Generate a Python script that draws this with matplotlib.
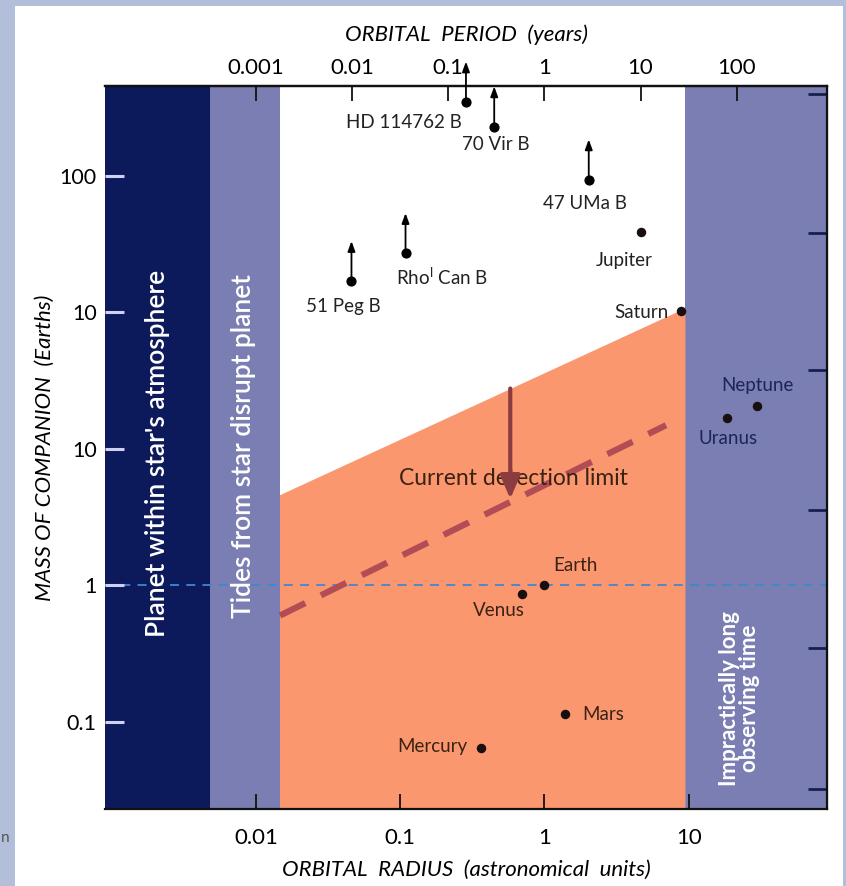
import numpy as np
import matplotlib
matplotlib.use("Agg")
import matplotlib.pyplot as plt
from matplotlib.patches import Rectangle
from matplotlib.transforms import offset_copy

plt.rcParams['font.family'] = ['Lato', 'DejaVu Sans']

# ---------------- data ----------------
# axis ranges (AU, Earth masses)
x_range = [9.0e-4, 91.0]
y_range = [0.0229, 4570.0]

# region boundaries along orbital radius (AU)
region_edges = [9.0e-4, 0.0048, 0.0147, 9.5, 91.0]
region_colors = ['#0c195b', '#7a7eb2', 'none', '#7a7eb2']

# current detection limit (upper edge of orange region)
limit_x = [0.0147, 9.5]
limit_y = [4.57, 107.0]
# projected future limit (dashed red line)
future_x = [0.0147, 6.97]
future_y = [0.60, 14.9]
# improvement arrow
improve_x = 0.58
improve_y = [27.7, 4.3]

# exoplanets (lower limits on mass)
exo_names = ['HD 114762 B', '70 Vir B', '47 UMa B', '51 Peg B', 'Rho$^{\\mathregular{l}}$ Can B']
exo_radius = [0.286, 0.449, 2.03, 0.046, 0.109]
exo_mass = [3500.0, 2300.0, 940.0, 169.0, 271.0]

# solar-system planets
planet_names = ['Jupiter', 'Saturn', 'Uranus', 'Neptune', 'Earth', 'Venus', 'Mars', 'Mercury']
planet_radius = [4.67, 8.87, 18.5, 30.0, 1.0, 0.70, 1.38, 0.364]
planet_mass = [392.0, 102.0, 16.7, 20.5, 1.0, 0.86, 0.113, 0.064]

# axis ticks
x_ticks = [0.01, 0.1, 1, 10]
x_ticklabels = ['0.01', '0.1', '1', '10']
period_ticks = [0.001, 0.01, 0.1, 1, 10, 100]
period_ticklabels = ['0.001', '0.01', '0.1', '1', '10', '100']
y_ticks = [0.1, 1, 10, 100, 1000]
y_ticklabels = ['0.1', '1', '10', '10', '100']
right_ticks = [10**3.60, 10**2.58, 10**1.575, 10**0.55, 10**-0.46, 10**-1.49]

# label layout (offset points, alignment)
exo_label_off = [(-45, -15, 'center'), (1.5, -12.5, 'center'), (-3, -17, 'center'),
                 (-6, -18, 'center'), (26, -17, 'center')]
planet_label_off = [(-12, -21, 'center'), (-9, -1, 'right'), (0.7, -14.5, 'center'),
                    (0, 15, 'center'), (22, 14.5, 'center'), (-17, -11.5, 'center'),
                    (13, 0, 'left'), (-10, 1.5, 'right')]
planet_label_colors = ['#222222', '#222222', '#1c2458', '#1c2458',
                       '#3a2214', '#3a2214', '#3a2214', '#3a2214']

# ---------------- figure ----------------
W, H = 846, 886
fig = plt.figure(figsize=(W / 100, H / 100), dpi=100)
fig.patch.set_facecolor('white')

# picture frame
fig.patches.append(Rectangle((0, 0), 15 / W, 1, transform=fig.transFigure,
                             facecolor='#b3bfda', edgecolor='none', zorder=-5))
fig.patches.append(Rectangle((0, 1 - 6 / H), 1, 6 / H, transform=fig.transFigure,
                             facecolor='#b3bfda', edgecolor='none', zorder=-5))
fig.patches.append(Rectangle((1 - 3 / W, 0), 3 / W, 1, transform=fig.transFigure,
                             facecolor='#b3bfda', edgecolor='none', zorder=-5))
fig.text(1 / W, 1 - 838 / H, 'n', fontsize=11, color='#555555', va='center', ha='left')

left_px, right_px, top_px, bot_px = 105, 827, 86, 809
ax = fig.add_axes([left_px / W, 1 - bot_px / H, (right_px - left_px) / W, (bot_px - top_px) / H])
ax.set_xscale('log')
ax.set_yscale('log')
ax.set_xlim(*x_range)
ax.set_ylim(*y_range)

# regions
for i, c in enumerate(region_colors):
    if c == 'none':
        continue
    ax.axvspan(region_edges[i], region_edges[i + 1], color=c, lw=0, zorder=0)

# orange detection region
poly_x = [limit_x[0], limit_x[0], limit_x[1], limit_x[1]]
poly_y = [y_range[0], limit_y[0], limit_y[1], y_range[0]]
ax.fill(poly_x, poly_y, color='#fa976f', lw=0, zorder=0.5)

# Earth-mass reference line
ax.axhline(1.0, color='#3f86d6', lw=1.3, ls=(0, (5, 4)), zorder=1)

# future detection limit
ax.plot(future_x, future_y, color='#b24d55', lw=4.5, ls=(0, (4.5, 2.8)),
        solid_capstyle='butt', zorder=2)

# improvement arrow
ax.annotate('', xy=(improve_x, improve_y[1]), xytext=(improve_x, improve_y[0]),
            arrowprops=dict(arrowstyle='-|>,head_length=1.4,head_width=0.6',
                            color='#8c3b40', lw=3.0, shrinkA=0, shrinkB=0), zorder=3)

ax.text(0.61, 6.1, 'Current detection limit', fontsize=16.5, color='#3a2214',
        ha='center', va='center', zorder=2)

# exoplanets with lower-limit arrows
ax.scatter(exo_radius, exo_mass, s=40, color='black', zorder=5, clip_on=False)
up_tr = offset_copy(ax.transData, fig=fig, x=0, y=29, units='points')
for name, r, m, (dx, dy, ha) in zip(exo_names, exo_radius, exo_mass, exo_label_off):
    ax.annotate('', xy=(r, m), xycoords=up_tr, xytext=(r, m), textcoords='data',
                arrowprops=dict(arrowstyle='-|>,head_length=0.6,head_width=0.22',
                                color='black', lw=1.3, shrinkA=0, shrinkB=0),
                annotation_clip=False, zorder=5)
    ax.annotate(name, xy=(r, m), xytext=(dx, dy), textcoords='offset points',
                ha=ha, va='center', fontsize=13.5, color='#222222', zorder=6)

# planets
ax.scatter(planet_radius, planet_mass, s=34, color='#1a0f10', zorder=5)
for name, r, m, (dx, dy, ha), c in zip(planet_names, planet_radius, planet_mass,
                                        planet_label_off, planet_label_colors):
    ax.annotate(name, xy=(r, m), xytext=(dx, dy), textcoords='offset points',
                ha=ha, va='center', fontsize=13.5, color=c, zorder=6)

# region captions
ax.text(np.sqrt(region_edges[0] * region_edges[1]), 10**0.97,
        "Planet within star's atmosphere", rotation=90, color='white',
        fontsize=19, fontweight='semibold', ha='center', va='center', zorder=4)
ax.text(0.0082, 10**1.02, 'Tides from star disrupt planet', rotation=90, color='white',
        fontsize=19, fontweight='semibold', ha='center', va='center', zorder=4)
ax.text(22.5, 10**-0.83, 'Impractically long\nobserving time', rotation=90, color='white',
        fontsize=16, fontweight='bold', ha='center', va='center', linespacing=0.95, zorder=4)

# axes styling
for s in ['top', 'bottom', 'right']:
    ax.spines[s].set_linewidth(1.6)
    ax.spines[s].set_color('#111111')
ax.spines['left'].set_visible(False)

ax.set_xticks(x_ticks)
ax.set_xticklabels(x_ticklabels)
ax.xaxis.set_minor_locator(matplotlib.ticker.NullLocator())
ax.set_yticks(y_ticks)
ax.set_yticklabels(y_ticklabels)
ax.yaxis.set_minor_locator(matplotlib.ticker.NullLocator())
ax.tick_params(axis='x', which='major', direction='in', length=11, width=1.3,
               color='#111111', labelsize=16, pad=14)
ax.tick_params(axis='y', which='major', direction='in', length=14, width=2.2,
               color='#cfd0f2', labelsize=15.5, pad=6)
ax.set_xlabel('ORBITAL  RADIUS  (astronomical  units)', fontsize=16, style='italic',
              labelpad=8)
ax.set_ylabel('MASS OF COMPANION  (Earths)', fontsize=16, style='italic', labelpad=3)

# top axis: orbital period (years), P = a^1.5
sec_x = ax.secondary_xaxis('top', functions=(lambda a: np.power(np.clip(a, 1e-12, None), 1.5),
                                             lambda p: np.power(np.clip(p, 1e-12, None), 2 / 3)))
sec_x.set_xticks(period_ticks)
sec_x.set_xticklabels(period_ticklabels)
sec_x.xaxis.set_minor_locator(matplotlib.ticker.NullLocator())
sec_x.tick_params(axis='x', which='major', direction='in', length=11, width=1.3,
                  color='#111111', labelsize=16, pad=6)
sec_x.spines['top'].set_linewidth(1.6)
sec_x.set_xlabel('ORBITAL  PERIOD  (years)', fontsize=16, style='italic', labelpad=12)

# right axis ticks
sec_y = ax.secondary_yaxis('right')
sec_y.set_yticks(right_ticks)
sec_y.set_yticklabels([])
sec_y.yaxis.set_minor_locator(matplotlib.ticker.NullLocator())
sec_y.tick_params(axis='y', which='major', direction='in', length=14, width=2.0,
                  color='#16204f')

fig.savefig('out.png', dpi=100)
